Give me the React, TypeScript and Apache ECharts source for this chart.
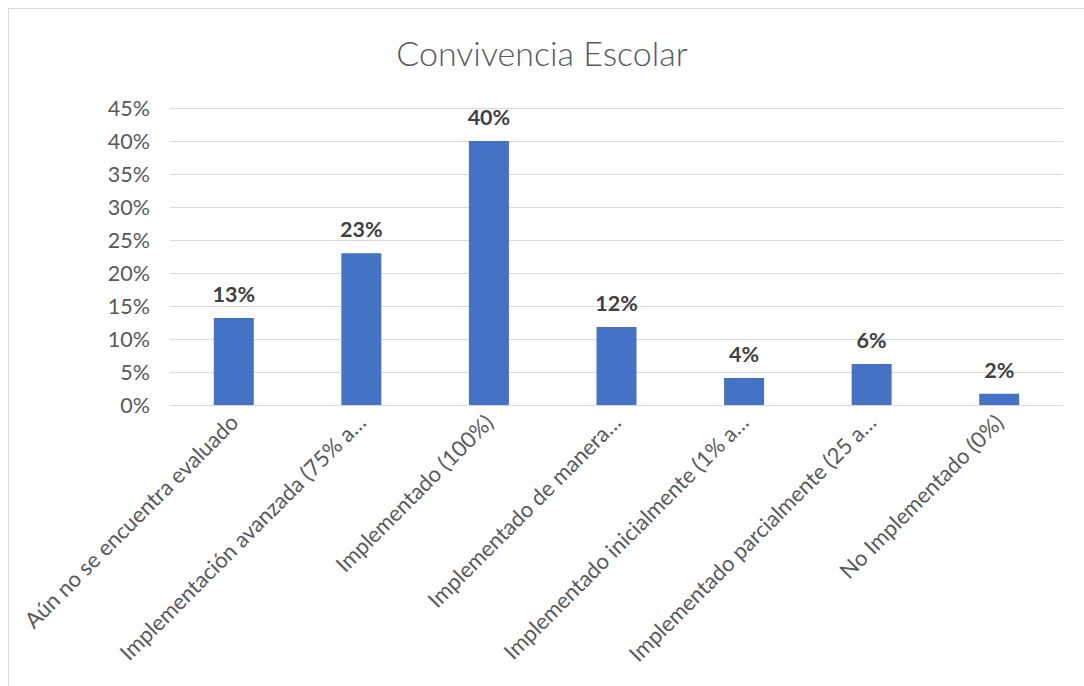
import React, { useEffect, useRef } from "react";
import * as echarts from "echarts";

const categories = [
  "Aún no se encuentra evaluado",
  "Implementación avanzada (75% a…",
  "Implementado (100%)",
  "Implementado de manera…",
  "Implementado inicialmente (1% a…",
  "Implementado parcialmente (25 a…",
  "No Implementado (0%)",
];
const values = [0.132, 0.23, 0.4, 0.118, 0.041, 0.062, 0.017];
const title = "Convivencia Escolar";

export default function App() {
  const ref = useRef<HTMLDivElement>(null);
  useEffect(() => {
    if (!ref.current) return;
    const chart = echarts.init(ref.current, null, { renderer: "svg" });
    const font = "Lato, 'Noto Sans', sans-serif";
    chart.setOption({
      animation: false,
      backgroundColor: "#ffffff",
      title: {
        text: title,
        left: "center",
        top: 30,
        textStyle: { fontFamily: font, fontSize: 34, fontWeight: 300, color: "#595959" },
      },
      graphic: [
        {
          type: "rect",
          shape: { x: 8.5, y: 8.5, width: 1100, height: 700 },
          style: { fill: "none", stroke: "#d9d9d9", lineWidth: 1 },
          silent: true,
        },
      ],
      grid: { left: 170, right: 21, top: 108, bottom: 281, containLabel: false },
      xAxis: {
        type: "category",
        data: categories,
        axisLine: { show: true, lineStyle: { color: "#d9d9d9", width: 1 } },
        axisTick: { show: false },
        axisLabel: {
          interval: 0,
          rotate: 45,
          margin: 13,
          fontFamily: font,
          fontSize: 22,
          color: "#595959",
        },
      },
      yAxis: {
        type: "value",
        min: 0,
        max: 0.45,
        interval: 0.05,
        axisLine: { show: false },
        axisTick: { show: false },
        splitLine: { lineStyle: { color: "#d9d9d9", width: 1 } },
        axisLabel: {
          margin: 20,
          fontFamily: font,
          fontSize: 21.5,
          color: "#595959",
          formatter: (v: number) => Math.round(v * 100) + "%",
        },
      },
      series: [
        {
          type: "bar",
          data: values,
          barWidth: 40,
          itemStyle: { color: "#4472C4" },
          label: {
            show: true,
            position: "top",
            distance: 13,
            fontFamily: font,
            fontSize: 21.5,
            fontWeight: "bold",
            color: "#404040",
            formatter: (p: any) => Math.round(p.value * 100) + "%",
          },
        },
      ],
    });
    return () => chart.dispose();
  }, []);
  return (
    <div
      ref={ref}
      style={{ position: "absolute", left: 0, top: 0, width: 1084, height: 686 }}
    />
  );
}
